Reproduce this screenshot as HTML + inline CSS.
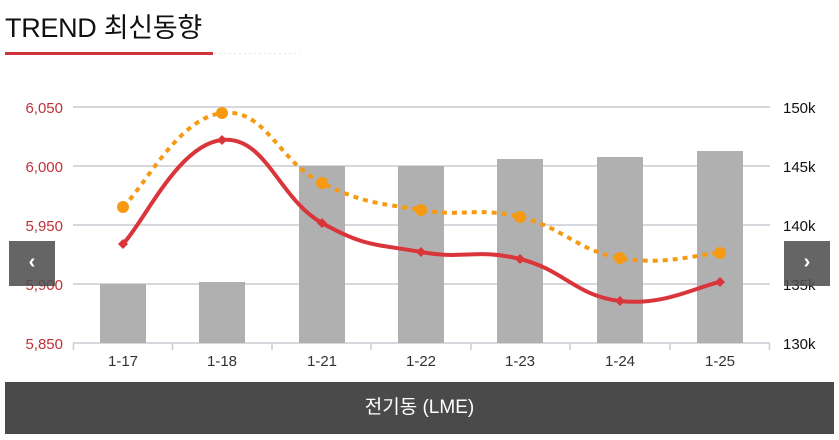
<!DOCTYPE html>
<html><head><meta charset="utf-8"><style>
body{margin:0;width:839px;height:440px;background:#fff;overflow:hidden;font-family:"Liberation Sans","Noto Sans CJK KR",sans-serif;position:relative}
.title{position:absolute;left:5px;top:6px;font-size:27px;color:#111;letter-spacing:-0.3px}
.nav{position:absolute;top:241px;width:46px;height:45px;background:rgba(80,80,80,0.88);color:#fff;font-size:20px;text-align:center;line-height:43px;font-weight:bold}
.bottom{position:absolute;left:5px;top:382px;width:829px;height:52px;background:#4a4a4a;color:#fff;font-size:19px;text-align:center;line-height:52px}
</style></head><body>
<div class="title">TREND 최신동향</div>
<svg width="839" height="440" style="position:absolute;left:0;top:0">
<line x1="5" y1="53.5" x2="213" y2="53.5" stroke="#d0343a" stroke-width="3"/>
<line x1="214" y1="53.5" x2="300" y2="53.5" stroke="#e6e6e6" stroke-width="1" stroke-dasharray="2,3"/>
<g stroke="#c8ccd2" stroke-width="1.5">
<line x1="73" y1="107" x2="770" y2="107"/><line x1="73" y1="166" x2="770" y2="166"/>
<line x1="73" y1="225" x2="770" y2="225"/><line x1="73" y1="284" x2="770" y2="284"/>
<line x1="73" y1="343" x2="770" y2="343"/>
</g>
<g stroke="#c8ccd2" stroke-width="1.5">
<line x1="73.5" y1="343" x2="73.5" y2="350"/><line x1="172.5" y1="343" x2="172.5" y2="350"/>
<line x1="272" y1="343" x2="272" y2="350"/><line x1="371" y1="343" x2="371" y2="350"/>
<line x1="471" y1="343" x2="471" y2="350"/><line x1="570" y1="343" x2="570" y2="350"/>
<line x1="670" y1="343" x2="670" y2="350"/><line x1="769.5" y1="343" x2="769.5" y2="350"/>
</g>
<g fill="#b0b0b0">
<rect x="100" y="284" width="46" height="59"/><rect x="199" y="282" width="46" height="61"/>
<rect x="299" y="166" width="46" height="177"/><rect x="398" y="166" width="46" height="177"/>
<rect x="497" y="159" width="46" height="184"/><rect x="597" y="157" width="46" height="186"/>
<rect x="697" y="151" width="46" height="192"/>
</g>
<g font-size="15" fill="#c0323a" text-anchor="end">
<text x="63" y="113">6,050</text><text x="63" y="172">6,000</text><text x="63" y="231">5,950</text>
<text x="63" y="290">5,900</text><text x="63" y="349">5,850</text>
</g>
<g font-size="15" fill="#111">
<text x="783" y="113">150k</text><text x="783" y="172">145k</text><text x="783" y="231">140k</text>
<text x="783" y="290">135k</text><text x="783" y="349">130k</text>
</g>
<g font-size="15" fill="#333" text-anchor="middle">
<text x="123" y="366">1-17</text><text x="222" y="366">1-18</text><text x="322" y="366">1-21</text>
<text x="421" y="366">1-22</text><text x="520" y="366">1-23</text><text x="620" y="366">1-24</text>
<text x="720" y="366">1-25</text>
</g>
<path id="orange" fill="none" stroke="#f59a12" stroke-width="4" stroke-dasharray="5,5"/>
<path id="red" fill="none" stroke="#d9353b" stroke-width="4"/>
<g id="pts"></g>
</svg>
<div class="nav" style="left:9px">&#8249;</div>
<div class="nav" style="left:784px">&#8250;</div>
<div class="bottom">전기동 (LME)</div>
<script>
var xs=[123,222,322,421,520,620,720];
var red=[244,140,223,252,259,301,282], org=[207,113,183,210,217,258,253];
function path(ys){var p=xs.map((x,i)=>[x,ys[i]]);var d="M"+p[0];for(var i=0;i<p.length-1;i++){var a=p[Math.max(i-1,0)],b=p[i],c=p[i+1],e=p[Math.min(i+2,p.length-1)];var t=0.22;d+=" C"+(b[0]+(c[0]-a[0])*t)+","+(b[1]+(c[1]-a[1])*t)+" "+(c[0]-(e[0]-b[0])*t)+","+(c[1]-(e[1]-b[1])*t)+" "+c[0]+","+c[1];}return d;}
document.getElementById("red").setAttribute("d",path(red));
document.getElementById("orange").setAttribute("d",path(org));
var g=document.getElementById("pts"),s="";
xs.forEach(function(x,i){s+='<circle cx="'+x+'" cy="'+org[i]+'" r="6" fill="#f59a12"/>';s+='<path d="M'+x+','+(red[i]-5)+' l5,5 l-5,5 l-5,-5z" fill="#d9353b"/>';});
g.innerHTML=s;
</script>
</body></html>
